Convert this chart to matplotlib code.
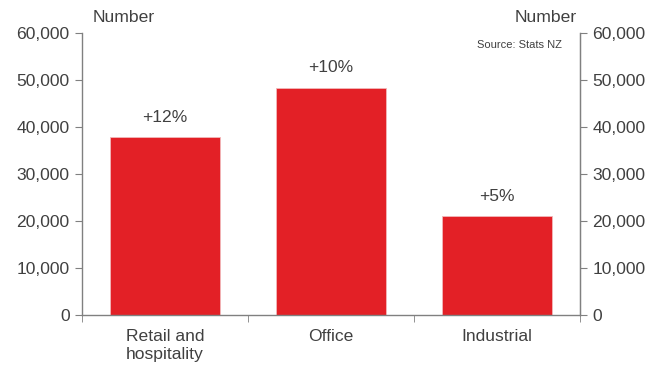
import numpy as np
import matplotlib.pyplot as plt
from matplotlib.ticker import FuncFormatter

plt.rcParams['font.family'] = ['Liberation Sans', 'DejaVu Sans']

categories = ["Retail and\nhospitality", "Office", "Industrial"]
values = [37800, 48400, 21000]
changes = ["+12%", "+10%", "+5%"]

text_col = "#404040"
axis_col = "#808080"
bar_col = "#e32026"
fs = 12.6

fig = plt.figure(figsize=(6.54, 3.68), dpi=100)
ax = fig.add_axes([0.1254, 0.144, 0.7615, 0.7663])
x = np.arange(len(categories))
ax.bar(x, values, width=0.66, color=bar_col, edgecolor="#f2b8ba", linewidth=0.6, zorder=2)

for xi, v, lab in zip(x, values, changes):
    ax.annotate(lab, (xi, v), xytext=(0, 9), textcoords="offset points",
                ha="center", va="bottom", fontsize=fs, color=text_col)

ax.set_xlim(-0.5, 2.5)
ax.set_ylim(0, 60000)
ax.set_yticks(np.arange(0, 60001, 10000))
fmt = FuncFormatter(lambda v, p: f"{int(v):,}")
ax.yaxis.set_major_formatter(fmt)
ax.set_xticks(x)
ax.set_xticklabels(categories, linespacing=1.3)
ax.set_xticks([-0.5, 0.5, 1.5, 2.5], minor=True)
ax.tick_params(axis="x", which="major", length=0, pad=10, labelsize=fs, labelcolor=text_col)
ax.tick_params(axis="x", which="minor", length=5, color=axis_col, direction="out")
ax.tick_params(axis="y", length=5, color=axis_col, labelsize=fs, labelcolor=text_col, pad=4)

for s in ["top"]:
    ax.spines[s].set_visible(False)
for s in ["left", "right", "bottom"]:
    ax.spines[s].set_color(axis_col)
    ax.spines[s].set_linewidth(1)

ax2 = ax.twinx()
ax2.set_ylim(0, 60000)
ax2.set_yticks(np.arange(0, 60001, 10000))
ax2.yaxis.set_major_formatter(fmt)
ax2.tick_params(axis="y", length=5, color=axis_col, labelsize=fs, labelcolor=text_col, pad=4)
for s in ["top", "left", "bottom"]:
    ax2.spines[s].set_visible(False)
ax2.spines["right"].set_color(axis_col)

fig.text(93 / 654, 1 - 18 / 368, "Number", ha="left", va="center", fontsize=fs, color=text_col)
fig.text(577 / 654, 1 - 18 / 368, "Number", ha="right", va="center", fontsize=fs, color=text_col)
fig.text(562 / 654, 1 - 45 / 368, "Source: Stats NZ", ha="right", va="center", fontsize=8, color=text_col)

fig.savefig("out.png", dpi=100)
